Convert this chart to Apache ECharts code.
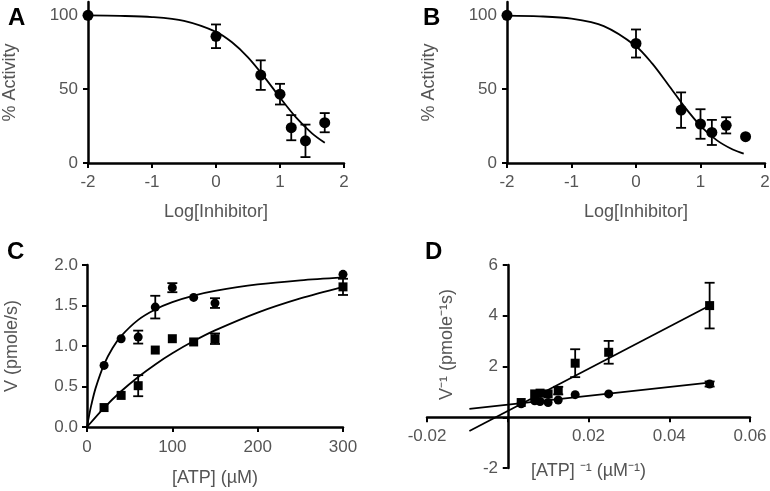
<!DOCTYPE html>
<html><head><meta charset="utf-8">
<script src="https://cdn.jsdelivr.net/npm/echarts@6/dist/echarts.min.js"></script>
<style>html,body{margin:0;padding:0;background:#fff}#c{width:770px;height:491px}</style>
</head><body><div id="c"></div>
<script>
// ---- Panel A / B : dose response ----
const logInhibitor = [-2, 0, 0.699, 1, 1.176, 1.398, 1.699];
const activityA = [100, 85.8, 59.5, 46.6, 23.9, 15, 27.3];
const errA      = [0, 8, 10, 7, 8.5, 11, 6.5];
const activityB = [100, 80.9, 35.8, 26.4, 20.7, 25.5, 17.8];
const errB      = [0, 9.5, 12, 10, 8.5, 5.5, 0];
const fitX   = [-2, -1.5, -1, -0.5, 0, 0.25, 0.5, 0.75, 1, 1.25, 1.5, 1.7];
const fitA   = [99.9, 99.6, 98.8, 96.2, 88.8, 81.7, 71.5, 58.5, 44.3, 30.9, 20.1, 13.7];
const fitXB  = [-2, -1.5, -1, -0.5, 0, 0.25, 0.5, 0.75, 1, 1.25, 1.5, 1.67];
const fitB   = [99.8, 99.3, 97.7, 92.7, 79.1, 67.4, 53.0, 38.2, 25.2, 15.5, 9.1, 6.3];
const activityTicks = [0, 50, 100];

// ---- Panel C : Michaelis-Menten ----
const atp    = [20, 40, 60, 80, 100, 125, 150, 300];
const vCirc  = [0.76, 1.09, 1.11, 1.48, 1.72, 1.60, 1.53, 1.885];
const eCirc  = [0, 0, 0.08, 0.14, 0.056, 0, 0.06, 0];
const vSq    = [0.24, 0.39, 0.51, 0.95, 1.09, 1.05, 1.09, 1.73];
const eSq    = [0, 0, 0.13, 0, 0, 0, 0.065, 0.1];
const mmX1   = [0, 2.5, 5, 10, 20, 30, 40, 60, 80, 100, 125, 150, 200, 250, 300];
const mmCirc = [0, 0.144, 0.270, 0.477, 0.774, 0.976, 1.123, 1.323, 1.451, 1.541, 1.622, 1.680, 1.760, 1.811, 1.847];
const mmX2   = [0, 20, 40, 60, 80, 100, 125, 150, 200, 250, 300];
const mmSq   = [0, 0.237, 0.441, 0.618, 0.773, 0.910, 1.061, 1.193, 1.413, 1.588, 1.731];

// ---- Panel D : Lineweaver-Burk ----
const invAtp   = [0.05, 0.025, 0.0167, 0.0125, 0.01, 0.008, 0.00667, 0.00333];
const invCirc  = [1.31, 0.92, 0.89, 0.68, 0.58, 0.62, 0.65, 0.53];
const eInvCirc = [0.1, 0, 0, 0, 0, 0, 0, 0];
const invSq    = [4.40, 2.56, 2.13, 1.05, 0.92, 0.95, 0.92, 0.58];
const eInvSq   = [0.9, 0.45, 0.55, 0.15, 0, 0, 0, 0];
const lbX      = [-0.0095, 0.051];
const lbCirc   = [0.330, 1.382];
const lbSq     = [-0.539, 4.483];

const FONT = "'Liberation Sans', Arial, Helvetica, sans-serif";
const GREY = '#555';
const TICK_FS = 17;
const NAME_FS = 18;

function pairs(xs, ys) { return xs.map((x, i) => [x, ys[i]]); }
function errData(xs, ys, es) {
  const out = [];
  xs.forEach((x, i) => { if (es[i] > 0) out.push([x, ys[i] - es[i], ys[i] + es[i]]); });
  return out;
}
function errRender(capHalf) {
  return function (params, api) {
    const x = api.value(0), lo = api.value(1), hi = api.value(2);
    const pH = api.coord([x, hi]), pL = api.coord([x, lo]);
    const st = { stroke: '#000', lineWidth: 1.8 };
    return { type: 'group', children: [
      { type: 'line', shape: { x1: pH[0], y1: pH[1], x2: pL[0], y2: pL[1] }, style: st },
      { type: 'line', shape: { x1: pH[0] - capHalf, y1: pH[1], x2: pH[0] + capHalf, y2: pH[1] }, style: st },
      { type: 'line', shape: { x1: pL[0] - capHalf, y1: pL[1], x2: pL[0] + capHalf, y2: pL[1] }, style: st }
    ]};
  };
}
function axis(o) {
  const a = {
    type: 'value', gridIndex: o.grid, min: o.min, max: o.max, interval: o.interval,
    name: o.name || '', nameLocation: 'middle', nameGap: o.nameGap, nameRotate: o.nameRotate,
    nameTextStyle: Object.assign({ color: GREY, fontSize: NAME_FS, fontFamily: FONT }, o.nameStyle || {}),
    axisLine: { show: true, onZero: !!o.onZero, lineStyle: { color: '#000', width: 2.5 } },
    axisTick: { show: true, inside: false, length: 5, lineStyle: { color: '#000', width: 2 } },
    axisLabel: { color: GREY, fontSize: TICK_FS, fontFamily: FONT, margin: (o.margin !== undefined ? o.margin : 9),
                 formatter: o.fmt, showMinLabel: true, showMaxLabel: true },
    splitLine: { show: false }
  };
  if (o.custom) { a.axisTick.customValues = o.custom; a.axisLabel.customValues = o.custom; }
  return a;
}
function fitLine(xi, yi, data, smooth) {
  return { type: 'line', xAxisIndex: xi, yAxisIndex: yi, data: data, showSymbol: false, smooth: smooth,
           lineStyle: { color: '#000', width: 1.8 }, z: 2, silent: true };
}
function pts(xi, yi, data, sym, size) {
  return { type: 'scatter', xAxisIndex: xi, yAxisIndex: yi, data: data, symbol: sym, symbolSize: size,
           itemStyle: { color: '#000', opacity: 1 }, z: 4 };
}
function errs(xi, yi, data, cap) {
  return { type: 'custom', xAxisIndex: xi, yAxisIndex: yi, data: data, renderItem: errRender(cap),
           encode: { x: 0, y: [1, 2] }, z: 3, silent: true };
}

const option = {
  animation: false,
  backgroundColor: '#fff',
  grid: [
    { left: 88,  top: 2,   width: 256, height: 161, outerBoundsMode: 'none', containLabel: false },
    { left: 507, top: 2,   width: 258, height: 161, outerBoundsMode: 'none', containLabel: false },
    { left: 87,  top: 265, width: 256, height: 162, outerBoundsMode: 'none', containLabel: false },
    { left: 427, top: 265, width: 323, height: 203, outerBoundsMode: 'none', containLabel: false }
  ],
  xAxis: [
    axis({ grid: 0, min: -2, max: 2, interval: 1, name: 'Log[Inhibitor]', nameGap: 40, margin: 11 }),
    axis({ grid: 1, min: -2, max: 2, interval: 1, name: 'Log[Inhibitor]', nameGap: 40, margin: 11 }),
    axis({ grid: 2, min: 0, max: 300, interval: 100, name: '[ATP] (\u00B5M)', nameGap: 42, margin: 12 }),
    axis({ grid: 3, min: -0.02, max: 0.06, interval: 0.02, name: '[ATP] \u207B\u00B9 (\u00B5M\u207B\u00B9)', nameGap: -6,
           onZero: true, margin: -40, fmt: v => Math.abs(v) < 1e-9 ? '' : Number(v).toFixed(2) })
  ],
  yAxis: [
    axis({ grid: 0, min: 0, max: 109, interval: 50, custom: activityTicks, name: '% Activity', nameGap: 69, nameRotate: 90, margin: 10 }),
    axis({ grid: 1, min: 0, max: 109, interval: 50, custom: activityTicks, name: '% Activity', nameGap: 69, nameRotate: 90, margin: 10 }),
    axis({ grid: 2, min: 0, max: 2, interval: 0.5, name: 'V (pmole/s)', nameGap: 66, nameRotate: 90,
           fmt: v => Number(v).toFixed(1) }),
    axis({ grid: 3, min: -2, max: 6, interval: 2, name: 'V\u207B\u00B9 (pmole\u207B\u00B9s)', nameGap: -29, nameRotate: 90,
           onZero: true, margin: -71, nameStyle: { padding: [0, 0, 0, 44] },
           fmt: v => Math.abs(v) < 1e-9 ? '' : String(v) })
  ],
  series: [
    // A
    fitLine(0, 0, pairs(fitX, fitA), 0.3),
    errs(0, 0, errData(logInhibitor, activityA, errA), 5),
    pts(0, 0, pairs(logInhibitor, activityA), 'circle', 11),
    // B
    fitLine(1, 1, pairs(fitXB, fitB), 0.3),
    errs(1, 1, errData(logInhibitor, activityB, errB), 5),
    pts(1, 1, pairs(logInhibitor, activityB), 'circle', 11),
    // C
    fitLine(2, 2, pairs(mmX1, mmCirc), 0.3),
    fitLine(2, 2, pairs(mmX2, mmSq), 0.3),
    errs(2, 2, errData(atp, vCirc, eCirc), 5),
    errs(2, 2, errData(atp, vSq, eSq), 5),
    pts(2, 2, pairs(atp, vCirc), 'circle', 9),
    pts(2, 2, pairs(atp, vSq), 'rect', 9),
    // D
    fitLine(3, 3, pairs(lbX, lbCirc), false),
    fitLine(3, 3, pairs(lbX, lbSq), false),
    errs(3, 3, errData(invAtp, invCirc, eInvCirc), 5),
    errs(3, 3, errData(invAtp, invSq, eInvSq), 5),
    pts(3, 3, pairs(invAtp, invCirc), 'circle', 9),
    pts(3, 3, pairs(invAtp, invSq), 'rect', 9)
  ],
  graphic: [
    { type: 'text', left: 8,   top: 6,   style: { text: 'A', font: 'bold 24px ' + FONT, fill: '#000' } },
    { type: 'text', left: 423, top: 6,   style: { text: 'B', font: 'bold 24px ' + FONT, fill: '#000' } },
    { type: 'text', left: 7,   top: 240, style: { text: 'C', font: 'bold 24px ' + FONT, fill: '#000' } },
    { type: 'text', left: 425, top: 240, style: { text: 'D', font: 'bold 24px ' + FONT, fill: '#000' } }
  ]
};
const chart = echarts.init(document.getElementById('c'), null, { renderer: 'canvas' });
chart.setOption(option);
</script>
</body></html>
